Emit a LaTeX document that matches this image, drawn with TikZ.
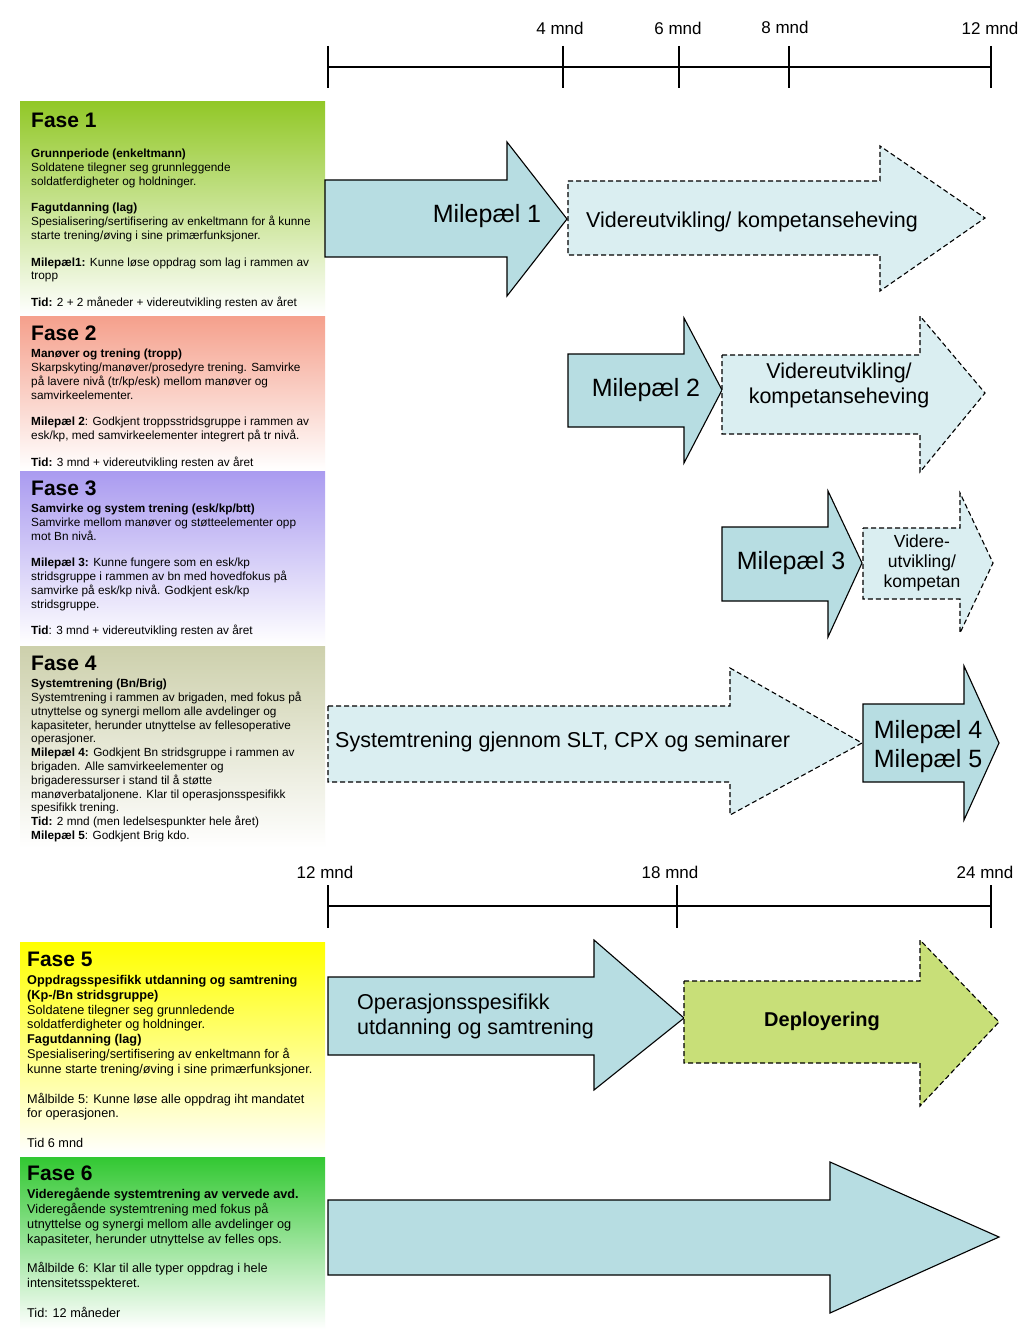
\documentclass[tikz,border=0pt]{standalone}
\usepackage{fontspec}
\setmainfont{Liberation Sans}
\usepackage{tikz}
\definecolor{fase1}{RGB}{146,200,40}
\definecolor{fase2}{RGB}{245,160,140}
\definecolor{fase3}{RGB}{170,155,240}
\definecolor{fase4}{RGB}{205,208,172}
\definecolor{fase5}{RGB}{255,255,0}
\definecolor{fase6}{RGB}{50,200,50}
\definecolor{pilfast}{RGB}{183,221,226}
\definecolor{pilstipl}{RGB}{218,238,241}
\definecolor{pildepl}{RGB}{200,223,120}
\newcommand{\fs}[2]{\fontsize{#1}{#2}\selectfont}

\begin{document}
\begin{tikzpicture}[x=1pt,y=-1pt,
    tid/.style={line width=1.8pt},
    fast/.style={draw,line width=1.1pt,fill=pilfast},
    stiplet/.style={draw,line width=1.1pt,dash pattern=on 5pt off 3pt,fill=pilstipl},
    mnd/.style={inner sep=0pt,font=\fs{17}{17}},
    tittel/.style={anchor=west,inner sep=0pt,font=\fs{21}{21}\bfseries},
    tekst/.style={anchor=north west,inner sep=0pt,align=left,font=\fs{11.8}{13.8}},
    tekststor/.style={anchor=north west,inner sep=0pt,align=left,font=\fs{12.7}{14.8}},
    milep/.style={inner sep=0pt,align=center,font=\fs{25}{29}},
    videre/.style={inner sep=0pt,align=center,font=\fs{21.5}{25}}]
       \useasboundingbox (0,0) rectangle (1024,1329);
       \fill[white] (0,0) rectangle (1024,1329);
       % tidslinje 0-12 mnd
       \draw[tid] (328,67) -- (991,67);
       \draw[tid] (328,46) -- (328,88);
       \draw[tid] (563,46) -- (563,88);
       \draw[tid] (679,46) -- (679,88);
       \draw[tid] (789,46) -- (789,88);
       \draw[tid] (991,46) -- (991,88);
       \node[mnd] (t4)  at (560,28) {4 mnd};
       \node[mnd] (t6)  at (678,28) {6 mnd};
       \node[mnd] (t8)  at (785,27) {8 mnd};
       \node[mnd] (t12) at (990,28) {12 mnd};
       % fase 1
       \shade[top color=fase1,bottom color=white] (20,102) rectangle (325,315);
       \node[tittel] (f1) at (31,120) {Fase 1};
       \node[tekst] (b1) at (31,149) {\textbf{Grunnperiode (enkeltmann)}\\
         Soldatene tilegner seg grunnleggende\\
         soldatferdigheter og holdninger.\\[12.5pt]
         \textbf{Fagutdanning (lag)}\\
         Spesialisering/sertifisering av enkeltmann for å kunne\\
         starte trening/øving i sine primærfunksjoner.\\[13pt]
         \textbf{Milepæl1:} Kunne løse oppdrag som lag i rammen av\\
         tropp\\[13pt]
         \textbf{Tid:} 2 + 2 måneder + videreutvikling resten av året};
       % fase 2
       \shade[top color=fase2,bottom color=white] (20,316) rectangle (325,470);
       \node[tittel] (f2) at (31,333) {Fase 2};
       \node[tekst] (b2) at (31,349) {\textbf{Manøver og trening (tropp)}\\
         Skarpskyting/manøver/prosedyre trening. Samvirke\\
         på lavere nivå (tr/kp/esk) mellom manøver og\\
         samvirkeelementer.\\[13pt]
         \textbf{Milepæl 2}: Godkjent troppsstridsgruppe i rammen av\\
         esk/kp, med samvirkeelementer integrert på tr nivå.\\[13pt]
         \textbf{Tid:} 3 mnd + videreutvikling resten av året};
       % fase 3
       \shade[top color=fase3,bottom color=white] (20,471) rectangle (325,645);
       \node[tittel] (f3) at (31,488) {Fase 3};
       \node[tekst] (b3) at (31,504) {\textbf{Samvirke og system trening (esk/kp/btt)}\\
         Samvirke mellom manøver og støtteelementer opp\\
         mot Bn nivå.\\[12.5pt]
         \textbf{Milepæl 3:} Kunne fungere som en esk/kp\\
         stridsgruppe i rammen av bn med hovedfokus på\\
         samvirke på esk/kp nivå. Godkjent esk/kp\\
         stridsgruppe.\\[13pt]
         \textbf{Tid}: 3 mnd + videreutvikling resten av året};
       % fase 4
       \shade[top color=fase4,bottom color=white] (20,646) rectangle (325,848);
       \node[tittel] (f4) at (31,663) {Fase 4};
       \node[tekst] (b4) at (31,679) {\textbf{Systemtrening (Bn/Brig)}\\
         Systemtrening i rammen av brigaden, med fokus på\\
         utnyttelse og synergi mellom alle avdelinger og\\
         kapasiteter, herunder utnyttelse av fellesoperative\\
         operasjoner.\\
         \textbf{Milepæl 4:} Godkjent Bn stridsgruppe i rammen av\\
         brigaden. Alle samvirkeelementer og\\
         brigaderessurser i stand til å støtte\\
         manøverbataljonene. Klar til operasjonsspesifikk\\
         spesifikk trening.\\
         \textbf{Tid:} 2 mnd (men ledelsespunkter hele året)\\
         \textbf{Milepæl 5}: Godkjent Brig kdo.};
       % pilene 0-12 mnd
       \draw[fast] (325,180) -- (507,180) -- (507,142) -- (567,219) -- (507,296) -- (507,257) -- (325,257) -- cycle;
       \node[milep] (m1) at (487,216) {Milepæl 1};
       \draw[stiplet] (568,181) -- (880,181) -- (880,146) -- (985,218) -- (880,291) -- (880,255) -- (568,255) -- cycle;
       \node[videre] (v1) at (752,222) {Videreutvikling/ kompetanseheving};
       \draw[fast] (568,354) -- (684,354) -- (684,318) -- (722,390) -- (684,463) -- (684,427) -- (568,427) -- cycle;
       \node[milep] (m2) at (646,390) {Milepæl 2};
       \draw[stiplet] (722,355) -- (920,355) -- (920,316) -- (985,393) -- (920,472) -- (920,434) -- (722,434) -- cycle;
       \node[videre] (v2) at (839,385) {Videreutvikling/\\kompetanseheving};
       \draw[fast] (722,527) -- (828,527) -- (828,491) -- (862,563) -- (828,637) -- (828,601) -- (722,601) -- cycle;
       \node[milep] (m3) at (791,563) {Milepæl 3};
       \draw[stiplet] (863,528) -- (960,528) -- (960,493) -- (993,563) -- (960,633) -- (960,599) -- (863,599) -- cycle;
       \node[videre,font=\fs{17.5}{20}] (v3) at (922,563) {Videre-\\utvikling/\\kompetan};
       \draw[stiplet] (328,706) -- (730,706) -- (730,668) -- (862,743) -- (730,815) -- (730,782) -- (328,782) -- cycle;
       \node[videre,anchor=west] (sys) at (335,742) {Systemtrening gjennom SLT, CPX og seminarer};
       \draw[fast] (863,704) -- (964,704) -- (964,666) -- (999,743) -- (964,820) -- (964,782) -- (863,782) -- cycle;
       \node[milep] (m45) at (928,747) {Milepæl 4\\Milepæl 5};
       % tidslinje 12-24 mnd
       \draw[tid] (328,906) -- (991,906);
       \draw[tid] (328,885) -- (328,928);
       \draw[tid] (677,885) -- (677,928);
       \draw[tid] (991,885) -- (991,928);
       \node[mnd] (t12b) at (325,872) {12 mnd};
       \node[mnd] (t18)  at (670,872) {18 mnd};
       \node[mnd] (t24)  at (985,872) {24 mnd};
       % fase 5
       \shade[top color=fase5,bottom color=white] (20,942) rectangle (325,1155);
       \node[tittel] (f5) at (27,959) {Fase 5};
       \node[tekststor] (b5) at (27,975) {\textbf{Oppdragsspesifikk utdanning og samtrening}\\
         \textbf{(Kp-/Bn stridsgruppe)}\\
         Soldatene tilegner seg grunnledende\\
         soldatferdigheter og holdninger.\\
         \textbf{Fagutdanning (lag)}\\
         Spesialisering/sertifisering av enkeltmann for å\\
         kunne starte trening/øving i sine primærfunksjoner.\\[15pt]
         Målbilde 5: Kunne løse alle oppdrag iht mandatet\\
         for operasjonen.\\[15pt]
         Tid 6 mnd};
       % fase 6
       \shade[top color=fase6,bottom color=white] (20,1157) rectangle (325,1329);
       \node[tittel] (f6) at (27,1173) {Fase 6};
       \node[tekststor] (b6) at (27,1188) {\textbf{Videregående systemtrening av vervede avd.}\\
         Videregående systemtrening med fokus på\\
         utnyttelse og synergi mellom alle avdelinger og\\
         kapasiteter, herunder utnyttelse av felles ops.\\[15pt]
         Målbilde 6: Klar til alle typer oppdrag i hele\\
         intensitetsspekteret.\\[15pt]
         Tid: 12 måneder};
       % pilene 12-24 mnd
       \draw[fast] (328,977) -- (594,977) -- (594,940) -- (684,1018) -- (594,1090) -- (594,1055) -- (328,1055) -- cycle;
       \node[videre,anchor=west,align=left] (ops) at (357,1016) {Operasjonsspesifikk\\utdanning og samtrening};
       \draw[stiplet,fill=pildepl] (684,981) -- (920,981) -- (920,940) -- (999,1022) -- (920,1106) -- (920,1063) -- (684,1063) -- cycle;
       \node[videre,font=\fs{20}{24}\bfseries] (depl) at (822,1021) {Deployering};
       \draw[fast] (328,1200) -- (830,1200) -- (830,1162) -- (999,1237) -- (830,1313) -- (830,1275) -- (328,1275) -- cycle;
      \end{tikzpicture}
\end{document}
